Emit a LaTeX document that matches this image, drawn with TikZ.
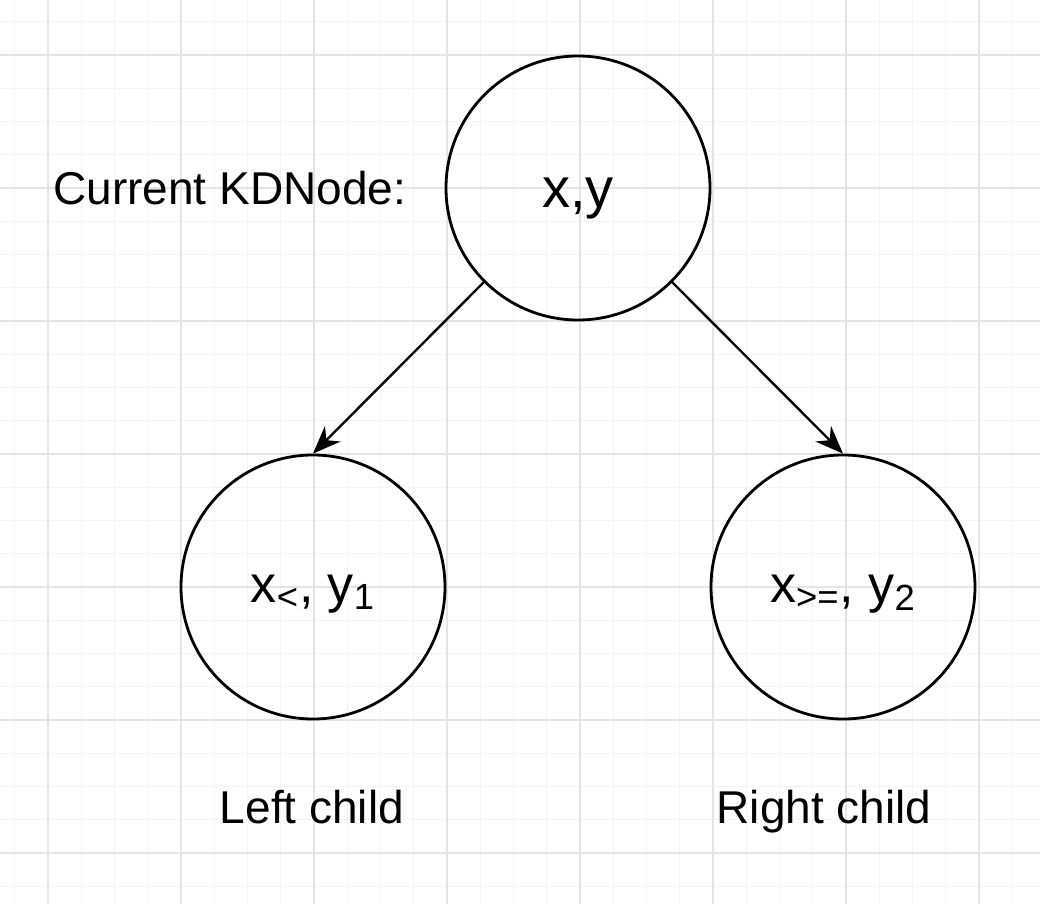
\documentclass[tikz,border=0pt]{standalone}
\usepackage{fontspec}
\setmainfont{Liberation Sans}
\usetikzlibrary{arrows.meta,positioning}
\definecolor{gridminor}{HTML}{F4F4F4}
\definecolor{gridmajor}{HTML}{E4E4E4}
\tikzset{
  kdnode/.style={circle, draw, line width=1.4pt, minimum size=132pt, inner sep=0pt,
    font=\fontsize{26pt}{30pt}\selectfont, text depth=0pt},
  caption/.style={inner sep=0pt, font=\fontsize{23pt}{27pt}\selectfont},
  edge/.style={line width=1.2pt, -{Stealth[length=14pt,width=11pt]}},
  minorgrid/.style={gridminor, line width=0.5pt},
  majorgrid/.style={gridmajor, line width=0.75pt}
}
\begin{document}
\begin{tikzpicture}[x=0.5pt,y=-0.5pt]
    \useasboundingbox (0,0) rectangle (1040,904);
    \fill[white] (0,0) rectangle (1040,904);
    % background grid
    \begin{scope}
        \clip (0,0) rectangle (1040,904);
        \foreach \k in {-1,...,30}
            \draw[minorgrid] ({48+33.25*\k},0) -- ({48+33.25*\k},904);
        \foreach \k in {-1,...,27}
            \draw[minorgrid] (0,{55+33.25*\k}) -- (1040,{55+33.25*\k});
        \foreach \k in {0,...,7}
            \draw[majorgrid] ({48+133*\k},0) -- ({48+133*\k},904);
        \foreach \k in {0,...,6}
            \draw[majorgrid] (0,{55+133*\k}) -- (1040,{55+133*\k});
    \end{scope}
    % tree
    \node[kdnode, text height=19pt, font=\fontsize{28pt}{32pt}\selectfont] (root) at (578,188) {x,y};
    \node[kdnode, text height=15pt] (left) at (313,587) {x\textsubscript{<}, y\textsubscript{1}};
    \node[kdnode, text height=15pt] (right) at (843,587) {x\textsubscript{>=}, y\textsubscript{2}};
    \draw[edge] (root.225) -- (left.north);
    \draw[edge] (root.-45) -- (right.north);
    % labels
    \node[caption, left=19pt of root.west] (current) {Current KDNode:};
    \node[caption, anchor=base] (leftlbl) at (312,823) {Left child};
    \node[caption, anchor=base] (rightlbl) at (824,823) {Right child};
\end{tikzpicture}
\end{document}
